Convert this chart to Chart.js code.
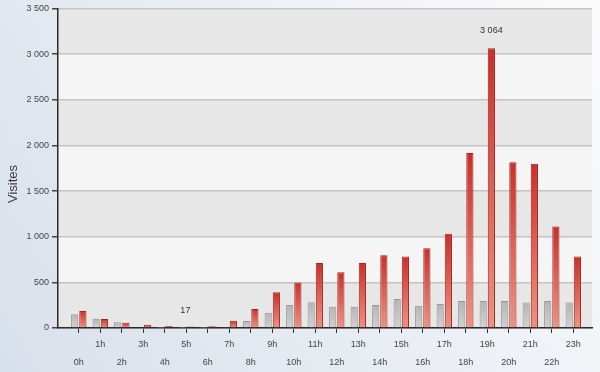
<!DOCTYPE html>
<html>
<head>
<meta charset="utf-8">
<script src="https://cdn.jsdelivr.net/npm/chart.js@4"></script>
<style>
html,body{margin:0;padding:0;background:#fff;}
#wrap{width:600px;height:372px;}
</style>
</head>
<body>
<div id="wrap"><canvas id="c" width="600" height="372"></canvas></div>
<script>
const hours = ['0h','1h','2h','3h','4h','5h','6h','7h','8h','9h','10h','11h','12h','13h','14h','15h','16h','17h','18h','19h','20h','21h','22h','23h'];
const visitesPrecedentes = [150,102,62,8,4,3,4,5,78,168,252,282,234,234,252,318,245,263,296,296,296,278,296,278];
const visites = [187,99,58,36,22,17,20,80,208,392,497,713,611,713,798,783,874,1031,1917,3064,1814,1799,1112,783];
const yTicks = [0,500,1000,1500,2000,2500,3000,3500];
const yTitle = 'Visites';

const fmt = v => String(v).replace(/\B(?=(\d{3})+(?!\d))/g, ' ');
const FONT = '"Liberation Sans Narrow","Liberation Sans",Arial,sans-serif';

const bgPlugin = {
  id: 'bg',
  beforeDraw(chart) {
    const ctx = chart.ctx, a = chart.chartArea, y = chart.scales.y;
    ctx.save();
    const g = ctx.createLinearGradient(600, 0, 0, 372);
    g.addColorStop(0, '#fbfbfc');
    g.addColorStop(1, '#d8e0eb');
    ctx.fillStyle = g;
    ctx.fillRect(0, 0, chart.width, chart.height);
    for (let i = 0; i < yTicks.length - 1; i++) {
      const t = y.getPixelForValue(yTicks[i + 1]);
      const b = y.getPixelForValue(yTicks[i]);
      const fromTop = yTicks.length - 2 - i;
      ctx.fillStyle = fromTop % 2 === 0 ? '#e7e7e7' : '#f5f5f5';
      ctx.fillRect(a.left, t, a.right - a.left, b - t);
    }
    // axis title
    ctx.translate(13, 184);
    ctx.rotate(-Math.PI / 2);
    ctx.font = '13px "Liberation Sans",Arial,sans-serif';
    ctx.fillStyle = '#3c3c3c';
    ctx.textAlign = 'center';
    ctx.textBaseline = 'middle';
    ctx.fillText(yTitle, 0, 0);
    ctx.restore();
  }
};

const labelPlugin = {
  id: 'minmax',
  afterDatasetsDraw(chart) {
    const ctx = chart.ctx;
    const meta = chart.getDatasetMeta(1);
    const vals = visites;
    const maxI = vals.indexOf(Math.max(...vals));
    const minI = vals.indexOf(Math.min(...vals));
    ctx.save();
    ctx.font = '9px ' + FONT;
    ctx.fillStyle = '#333';
    ctx.textAlign = 'center';
    ctx.textBaseline = 'middle';
    [maxI, minI].forEach(i => {
      const el = meta.data[i];
      ctx.fillText(fmt(vals[i]), el.x - (i === minI ? 5 : 0), el.y - (i === minI ? 16 : 18));
    });
    ctx.restore();
  }
};

function grad(ctx, top, bot, stops) {
  const c = ctx.chart;
  if (!c.chartArea) return stops[0];
  const ys = c.scales.y;
  const t = ys.getPixelForValue(ctx.raw.y);
  const b = ys.getPixelForValue(0);
  const g = c.ctx.createLinearGradient(0, t, 0, Math.max(b, t + 1));
  g.addColorStop(0, top);
  g.addColorStop(1, bot);
  return g;
}

new Chart(document.getElementById('c'), {
  type: 'bar',
  data: {
    datasets: [
      {
        label: 'Période précédente',
        data: visitesPrecedentes.map((v, i) => ({x: i, y: v})),
        backgroundColor: ctx => grad(ctx, '#b4b4b4', '#d2d2d2', ['#c4c4c4']),
        borderColor: '#969696',
        borderWidth: {left: 1, right: 1, top: 1, bottom: 0},
        categoryPercentage: 0.76,
        barPercentage: 0.88
      },
      {
        label: 'Visites',
        data: visites.map((v, i) => ({x: i, y: v})),
        backgroundColor: ctx => grad(ctx, '#c9302a', '#ec9484', ['#d9453a']),
        borderColor: '#a8241f',
        borderWidth: {left: 1, right: 1, top: 1, bottom: 0},
        categoryPercentage: 0.76,
        barPercentage: 0.88
      }
    ]
  },
  options: {
    responsive: false,
    animation: false,
    events: [],
    layout: {padding: {left: 0, top: 8, right: 8, bottom: 0}},
    plugins: {legend: {display: false}, tooltip: {enabled: false}},
    scales: {
      x: {
        type: 'linear',
        min: -0.967,
        max: 23.87,
        offset: false,
        afterBuildTicks: s => { s.ticks = hours.map((h, i) => ({value: i})); },
        afterFit: s => { s.height = 44; },
        grid: {offset: false, drawOnChartArea: false, drawTicks: true, tickLength: 5, tickColor: '#333', lineWidth: 1},
        border: {display: true, color: '#2a2a2a', width: 1.5},
        ticks: {
          autoSkip: false,
          maxRotation: 0,
          minRotation: 0,
          padding: 3,
          color: '#444',
          font: {size: 9, family: FONT, lineHeight: 2},
          callback: v => {
            const i = Math.round(v);
            return i % 2 ? [hours[i], ''] : ['', hours[i]];
          }
        }
      },
      y: {
        min: 0,
        max: 3500,
        afterBuildTicks: s => { s.ticks = yTicks.map(v => ({value: v})); },
        afterFit: s => { s.width = 58; },
        grid: {color: '#c4c4c4', lineWidth: 1.5, tickLength: 6, tickColor: '#444'},
        border: {display: true, color: '#2a2a2a', width: 1.5},
        ticks: {
          padding: 3,
          color: '#444',
          font: {size: 9, family: FONT},
          callback: v => fmt(v)
        },
        title: {display: false}
      }
    }
  },
  plugins: [bgPlugin, labelPlugin]
});
</script>
</body>
</html>
